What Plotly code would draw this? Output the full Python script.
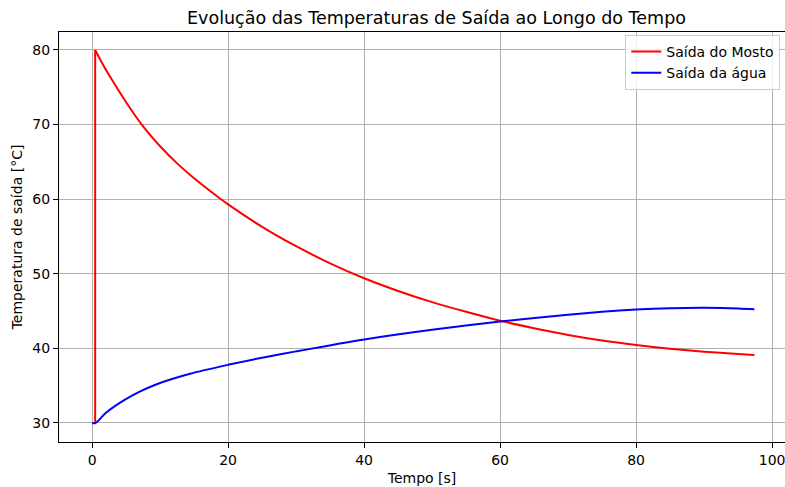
import plotly.graph_objects as go

# Outlet temperature of the wort (mosto): step at the start, then cooling
t_mosto = [0.45, 0.45, 1.5, 2.65, 5, 7.3, 10, 12.5, 15, 17.5, 20, 25, 30, 35, 40,
           45, 50, 55, 60, 65, 70, 75, 80, 85, 90, 95, 97.4]
T_mosto = [30, 80, 78.2, 76.4, 73.0, 70.0, 67.1, 64.8, 62.8, 61.0, 59.3, 56.3,
           53.7, 51.4, 49.4, 47.7, 46.2, 44.9, 43.7, 42.7, 41.8, 41.05, 40.45,
           39.95, 39.55, 39.25, 39.1]

# Outlet temperature of the cooling water
t_agua = [0, 0.5, 2, 4.6, 7, 9.5, 14.4, 20, 25, 30, 40, 50, 60, 70, 75, 80, 85,
          90, 95, 97.4]
T_agua = [30, 30, 31.35, 33.0, 34.2, 35.2, 36.6, 37.8, 38.75, 39.6, 41.2, 42.5,
          43.6, 44.5, 44.9, 45.2, 45.38, 45.44, 45.36, 45.24]

x_ticks = [0, 20, 40, 60, 80, 100]
y_ticks = [30, 40, 50, 60, 70, 80]

font = "DejaVu Sans"

fig = go.Figure()
# vertical jump of the wort outlet (straight segment)
fig.add_trace(go.Scatter(x=t_mosto[:2], y=T_mosto[:2], mode="lines",
                         legendgroup="mosto", showlegend=False,
                         line=dict(color="red", width=2), hoverinfo="skip"))
# smooth cooling curve of the wort outlet
fig.add_trace(go.Scatter(x=t_mosto[1:], y=T_mosto[1:], mode="lines",
                         name="Saída do Mosto", legendgroup="mosto",
                         line=dict(color="red", width=2, shape="spline", smoothing=0.8)))
fig.add_trace(go.Scatter(x=t_agua, y=T_agua, mode="lines", name="Saída da água",
                         line=dict(color="blue", width=2, shape="spline", smoothing=0.8)))

axis_common = dict(
    showgrid=True, gridcolor="#b0b0b0", gridwidth=1,
    showline=True, linecolor="black", linewidth=1,
    ticks="outside", ticklen=5, tickcolor="black", tickwidth=1,
    zeroline=False, ticklabeloverflow="allow",
    tickfont=dict(family=font, size=14, color="black"),
)

fig.update_layout(
    width=785, height=487,
    margin=dict(l=59, r=0, t=32, b=45),
    paper_bgcolor="white", plot_bgcolor="white",
    font=dict(family=font, size=14, color="black"),
    title=dict(text="Evolução das Temperaturas de Saída ao Longo do Tempo",
               x=436.5 / 785, xanchor="center", xref="container",
               y=1 - 18 / 487, yanchor="middle",
               font=dict(family=font, size=17.5, color="black")),
    xaxis=dict(axis_common, range=[-4.87, 101.9], tickvals=x_ticks, mirror=True,
               title=dict(text="Tempo [s]", font=dict(family=font, size=14), standoff=6)),
    yaxis=dict(axis_common, range=[27.45, 82.41], tickvals=y_ticks, mirror=False,
               title=dict(text="Temperatura de saída [°C]", font=dict(family=font, size=14),
                          standoff=6)),
    legend=dict(x=0.9935, xanchor="right", y=0.993, yanchor="top",
                bgcolor="rgba(255,255,255,0.8)", bordercolor="#cccccc", borderwidth=1,
                font=dict(family=font, size=14, color="black"),
                itemwidth=30, tracegroupgap=0),
    showlegend=True,
)

fig.write_html("out.html")
